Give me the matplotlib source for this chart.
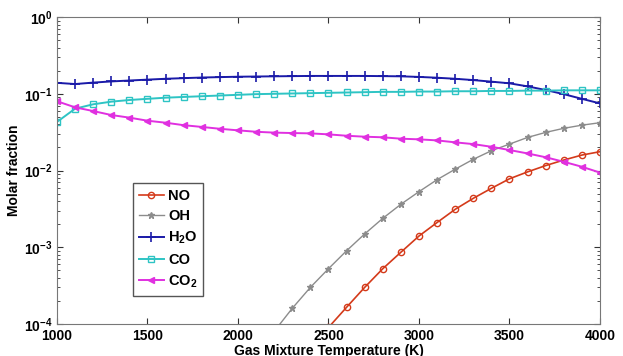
import matplotlib
matplotlib.use('Agg')
import matplotlib.pyplot as plt
import numpy as np

plt.rcParams['font.family'] = ['Liberation Sans', 'DejaVu Sans']
plt.rcParams['font.weight'] = 'bold'
plt.rcParams['mathtext.fontset'] = 'custom'
plt.rcParams['mathtext.rm'] = 'Liberation Sans:bold'
plt.rcParams['mathtext.it'] = 'Liberation Sans:bold'
plt.rcParams['mathtext.bf'] = 'Liberation Sans:bold'
plt.rcParams['mathtext.default'] = 'rm'

temp = list(range(1000, 4001, 100))

no_t = [2500, 2600, 2700, 2800, 2900, 3000, 3100, 3200, 3300, 3400, 3500,
        3600, 3700, 3800, 3900, 4000]
no_x = [0.00009, 0.000165, 0.0003, 0.000525, 0.00086, 0.0014, 0.0021, 0.00312,
        0.00434, 0.00586, 0.0078, 0.0096, 0.0116, 0.0137, 0.0159, 0.0176]

oh_t = [2200, 2300, 2400, 2500, 2600, 2700, 2800, 2900, 3000, 3100, 3200,
        3300, 3400, 3500, 3600, 3700, 3800, 3900, 4000]
oh_x = [0.00008, 0.00016, 0.0003, 0.000525, 0.0009, 0.00149, 0.00238, 0.00363,
        0.0053, 0.0076, 0.0104, 0.014, 0.0181, 0.0221, 0.027, 0.0314, 0.0355,
        0.039, 0.042]

h2o_x = [0.139, 0.134, 0.140, 0.145, 0.149, 0.153, 0.157, 0.160, 0.163, 0.165,
         0.167, 0.168, 0.169, 0.170, 0.171, 0.171, 0.171, 0.171, 0.170, 0.169,
         0.166, 0.162, 0.157, 0.151, 0.144, 0.137, 0.125, 0.112, 0.099, 0.086,
         0.075]

co_x = [0.043, 0.064, 0.073, 0.079, 0.083, 0.086, 0.089, 0.091, 0.093, 0.095,
        0.097, 0.099, 0.100, 0.101, 0.102, 0.103, 0.104, 0.105, 0.106, 0.106,
        0.107, 0.107, 0.108, 0.108, 0.109, 0.109, 0.110, 0.110, 0.111, 0.111,
        0.111]

co2_x = [0.080, 0.0666, 0.0596, 0.0529, 0.0489, 0.0446, 0.042, 0.039, 0.037,
         0.035, 0.0334, 0.032, 0.0312, 0.0308, 0.0305, 0.0296, 0.0284, 0.0276,
         0.0271, 0.0260, 0.0255, 0.0247, 0.0233, 0.0221, 0.0204, 0.0185,
         0.0167, 0.0149, 0.0130, 0.0112, 0.0094]

fig = plt.figure(figsize=(6.23, 3.56), dpi=100)
ax = fig.add_axes([0.0915, 0.090, 0.8715, 0.862])

ax.plot(no_t, no_x, color='#d43a1a', marker='o', ms=4.5, mfc='none', mew=1.0,
        lw=1.2, label='NO')
ax.plot(oh_t, oh_x, color='#8c8c8c', marker='*', ms=4.5, lw=1.0, label='OH')
ax.plot(temp, h2o_x, color='#1a1aa8', marker='+', ms=7, mew=1.2, lw=1.4,
        label='H$_2$O')
ax.plot(temp, co_x, color='#2ec4c4', marker='s', ms=5, mfc='none', mew=1.0,
        lw=1.4, label='CO')
ax.plot(temp, co2_x, color='#e030e0', marker='<', ms=5, lw=1.4,
        label='CO$_2$')

ax.set_yscale('log')
ax.set_xlim(1000, 4000)
ax.set_ylim(1e-4, 1)
ax.set_xticks(np.arange(1000, 4001, 500))
ax.set_yticks([1e-4, 1e-3, 1e-2, 1e-1, 1])
ax.set_yticklabels(['$10^{-4}$', '$10^{-3}$', '$10^{-2}$', '$10^{-1}$', '$10^{0}$'])
ax.tick_params(which='both', direction='in', top=True, right=True,
               labelsize=10, colors='#333333', labelcolor='black')
ax.tick_params(which='major', length=4)
ax.tick_params(which='minor', length=2)
for s in ax.spines.values():
    s.set_color('#777777')

ax.set_xlabel('Gas Mixture Temperature (K)', fontsize=10, fontweight='bold',
              labelpad=1)
ax.set_ylabel('Molar fraction', fontsize=10, fontweight='bold', labelpad=2)

leg = ax.legend(loc='upper left', bbox_to_anchor=(0.14, 0.46), fontsize=10.5,
                handlelength=1.7, handletextpad=0.3, borderaxespad=0,
                fancybox=False, framealpha=1, labelspacing=0.45,
                borderpad=0.4)
leg.get_frame().set_edgecolor('#555555')
leg.get_frame().set_linewidth(1.0)

fig.savefig('out.png', dpi=100)
